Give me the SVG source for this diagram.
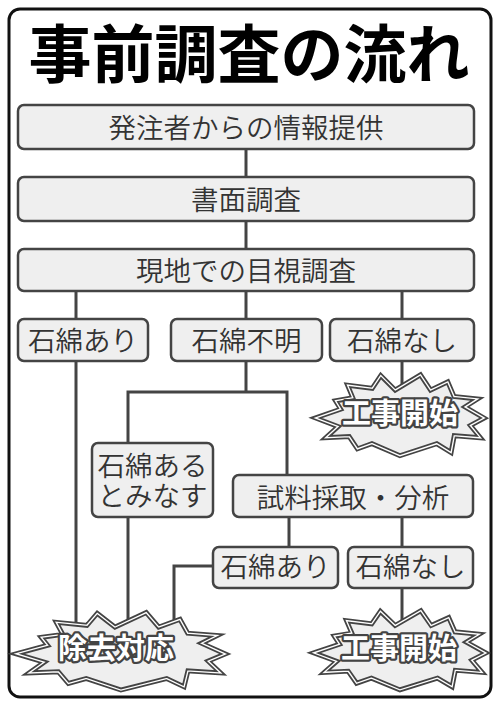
<svg xmlns="http://www.w3.org/2000/svg" xmlns:xlink="http://www.w3.org/1999/xlink" width="500" height="706" viewBox="0 0 500 706">
<style>
.box{fill:#efefef;stroke:#444;stroke-width:2.5}
.bt{font-family:"Noto Sans CJK JP","Noto Sans CJK SC",sans-serif;font-size:27.5px;font-weight:350;fill:#333;text-anchor:middle}
.ln{fill:none;stroke:#444;stroke-width:3}
.sb1{fill:none;stroke:#444;stroke-width:8;stroke-linejoin:miter;stroke-miterlimit:10}
.sb2{fill:none;stroke:#fff;stroke-width:4.5;stroke-linejoin:miter;stroke-miterlimit:10}
.sb3{fill:#efefef;stroke:#444;stroke-width:1.8;stroke-linejoin:miter;stroke-miterlimit:10}
.st{font-family:"Noto Sans CJK JP","Noto Sans CJK SC",sans-serif;font-size:29px;font-weight:bold;fill:#fff;stroke:#444;stroke-width:4.5;stroke-linejoin:round;paint-order:stroke;text-anchor:middle}
</style>
<defs>
<path id="burst" vector-effect="non-scaling-stroke" d="M-19,-37 L-5,-23 L20,-38 L30,-23 L47,-31 L53,-17 L73,-15 L62,-8 L81,3 L68,10 L77,21 L53,19 L50,35 L37,27 L0,39 L-28,27 L-42,32 L-50,20 L-70,21 L-59,11 L-80,3 L-57,-5 L-62,-13 L-45,-16 L-50,-28 L-27,-25 Z"/>
</defs>
<rect x="9" y="9" width="482" height="688" rx="11" fill="#fff" stroke="#111" stroke-width="3"/>
<text x="249" y="77" font-family="'Noto Sans CJK JP','Noto Sans CJK SC',sans-serif" font-size="63" font-weight="bold" fill="#000" text-anchor="middle">事前調査の流れ</text>
<g id="connectors">
<path class="ln" d="M246,149 V177"/>
<path class="ln" d="M246,221 V249"/>
<path class="ln" d="M76,291 V319 M246,291 V319 M402,291 V319"/>
<path class="ln" d="M76,361 V640"/>
<path class="ln" d="M246,361 V392 M128,443 V392 H287 V475"/>
<path class="ln" d="M402,361 V405"/>
<path class="ln" d="M128,517 V640"/>
<path class="ln" d="M289,517 V547 M402,517 V547"/>
<path class="ln" d="M213,566 H174 V640"/>
<path class="ln" d="M402,588 V640"/>
</g>
<g id="n1"><rect class="box" x="18" y="105" width="456" height="44" rx="6"/><text class="bt" x="246" y="138">発注者からの情報提供</text></g>
<g id="n2"><rect class="box" x="18" y="177" width="456" height="44" rx="6"/><text class="bt" x="246" y="210">書面調査</text></g>
<g id="n3"><rect class="box" x="18" y="249" width="456" height="42" rx="6"/><text class="bt" x="246" y="281">現地での目視調査</text></g>
<g id="n4"><rect class="box" x="18" y="319" width="130" height="42" rx="6"/><text class="bt" x="83" y="351">石綿あり</text></g>
<g id="n5"><rect class="box" x="171" y="319" width="151" height="42" rx="6"/><text class="bt" x="246.5" y="351">石綿不明</text></g>
<g id="n6"><rect class="box" x="330" y="319" width="144" height="42" rx="6"/><text class="bt" x="402" y="351">石綿なし</text></g>
<g id="n7"><g transform="translate(400,415)"><use xlink:href="#burst" class="sb1"/><use xlink:href="#burst" class="sb2"/><use xlink:href="#burst" class="sb3"/></g><text class="st" x="400" y="424">工事開始</text></g>
<g id="n8"><rect class="box" x="92" y="443" width="121" height="74" rx="6"/><text class="bt"><tspan x="152.5" y="476">石綿ある</tspan><tspan x="152.5" y="506">とみなす</tspan></text></g>
<g id="n9"><rect class="box" x="233" y="475" width="240" height="42" rx="6"/><text class="bt" x="353" y="508">試料採取・分析</text></g>
<g id="n10"><rect class="box" x="213" y="547" width="125" height="41" rx="6"/><text class="bt" x="275.5" y="577">石綿あり</text></g>
<g id="n11"><rect class="box" x="348" y="547" width="125" height="41" rx="6"/><text class="bt" x="410.5" y="577">石綿なし</text></g>
<g id="n12"><g transform="translate(121,651) scale(1.24,0.96)"><use xlink:href="#burst" class="sb1"/><use xlink:href="#burst" class="sb2"/><use xlink:href="#burst" class="sb3"/></g><text class="st" x="116" y="659">除去対応</text></g>
<g id="n13"><g transform="translate(400,650) scale(1.02,0.98)"><use xlink:href="#burst" class="sb1"/><use xlink:href="#burst" class="sb2"/><use xlink:href="#burst" class="sb3"/></g><text class="st" x="399" y="659">工事開始</text></g>
</svg>
